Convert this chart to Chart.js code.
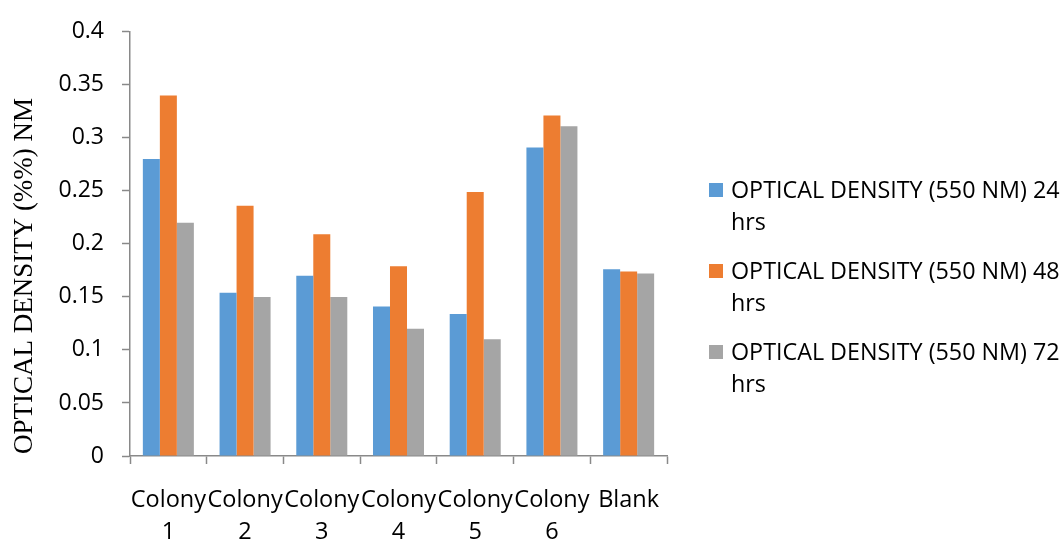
<!DOCTYPE html>
<html>
<head>
<meta charset="utf-8">
<title>Optical density by colony</title>
<script src="https://cdn.jsdelivr.net/npm/chart.js@4/dist/chart.umd.min.js"></script>
<style>
  html, body { margin: 0; padding: 0; background: #ffffff; }
  #wrap { width: 1064px; height: 539px; }
</style>
</head>
<body>
<div id="wrap"><canvas id="chart" width="1064" height="539"></canvas></div>
<script>
// Category labels (one array entry per line of text)
const categories = [
  ['Colony', '1'], ['Colony', '2'], ['Colony', '3'],
  ['Colony', '4'], ['Colony', '5'], ['Colony', '6'], ['Blank']
];

// Optical density readings
const od24 = [0.28, 0.154, 0.17, 0.141, 0.134, 0.291, 0.176];
const od48 = [0.34, 0.236, 0.209, 0.179, 0.249, 0.321, 0.174];
const od72 = [0.22, 0.15, 0.15, 0.12, 0.11, 0.311, 0.172];

// Series names, shown in the legend as two lines each
const seriesNames = [
  ['OPTICAL DENSITY (550 NM) 24', 'hrs'],
  ['OPTICAL DENSITY (550 NM) 48', 'hrs'],
  ['OPTICAL DENSITY (550 NM) 72', 'hrs']
];

// Value-axis tick labels
const yTickLabels = ['0', '0.05', '0.1', '0.15', '0.2', '0.25', '0.3', '0.35', '0.4'];

const yTitle = 'OPTICAL DENSITY (%%) NM';

const seriesColors = ['#5B9BD5', '#ED7D31', '#A5A5A5'];
const axisColor = '#898989';
const sansFont = '"Open Sans", "Liberation Sans", sans-serif';
const serifFont = '"Liberation Serif", "DejaVu Serif", serif';

// Draws the wrapped legend on the right and the rotated value-axis title
const sideText = {
  id: 'sideText',
  afterDraw(chart) {
    const ctx = chart.ctx;
    ctx.save();

    // legend
    ctx.font = '23.3px ' + sansFont;
    ctx.textBaseline = 'middle';
    ctx.textAlign = 'left';
    const boxX = 709, box = 14, textX = 731;
    const firstY = 191, itemGap = 81, lineGap = 32;
    chart.data.datasets.forEach((ds, i) => {
      const y = firstY + i * itemGap;
      ctx.fillStyle = ds.backgroundColor;
      ctx.fillRect(boxX, y - box / 2 - 1, box, box);
      ctx.fillStyle = '#000000';
      const lines = seriesNames[i];
      lines.forEach((line, j) => ctx.fillText(line, textX, y + j * lineGap));
    });

    // value-axis title
    ctx.font = '27px ' + serifFont;
    ctx.fillStyle = '#000000';
    ctx.textAlign = 'center';
    ctx.textBaseline = 'middle';
    ctx.translate(25, 276);
    ctx.rotate(-Math.PI / 2);
    ctx.fillText(yTitle, 0, 0);
    ctx.restore();
  }
};

new Chart(document.getElementById('chart'), {
  type: 'bar',
  data: {
    labels: categories,
    datasets: [od24, od48, od72].map((values, i) => ({
      label: seriesNames[i].join(' '),
      data: values,
      backgroundColor: seriesColors[i],
      borderWidth: 0,
      categoryPercentage: 0.665,
      barPercentage: 1.0
    }))
  },
  options: {
    responsive: false,
    animation: false,
    layout: { padding: { top: 28, right: 397, left: 0, bottom: 0 } },
    plugins: {
      legend: { display: false },
      tooltip: { enabled: false },
      title: { display: false }
    },
    scales: {
      x: {
        offset: true,
        border: { display: true, color: axisColor, width: 1.5 },
        grid: {
          display: true,
          offset: true,
          drawOnChartArea: false,
          drawTicks: true,
          tickLength: 8,
          color: axisColor,
          tickWidth: 1.5
        },
        ticks: {
          autoSkip: false,
          maxRotation: 0,
          minRotation: 0,
          padding: 20,
          color: '#000000',
          font: { family: sansFont, size: 23.5, lineHeight: 1.36 }
        },
        afterFit(scale) { scale.height = 83; }
      },
      y: {
        min: 0,
        max: 0.4,
        border: { display: true, color: axisColor, width: 1.5 },
        grid: {
          display: true,
          drawOnChartArea: false,
          drawTicks: true,
          tickLength: 8,
          color: axisColor,
          tickWidth: 1.5
        },
        ticks: {
          stepSize: 0.05,
          padding: 18,
          color: '#000000',
          font: { family: sansFont, size: 23 },
          callback: (value, index) => yTickLabels[index]
        },
        afterFit(scale) { scale.width = 130; }
      }
    }
  },
  plugins: [sideText]
});
</script>
</body>
</html>
